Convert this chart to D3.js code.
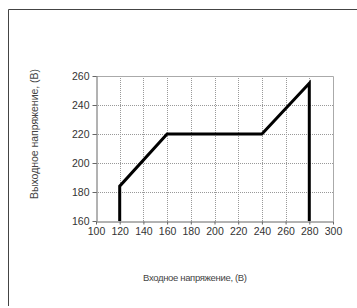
<!DOCTYPE html>
<html lang="ru">
<head>
  <meta charset="UTF-8">
  <title>Выходное напряжение</title>
  <script src="https://d3js.org/d3.v7.min.js"></script>
  <style>
    body { margin: 0; background: #fff; }
    text { font-family: "Liberation Sans", Arial, sans-serif; }
  </style>
</head>
<body>
  <script>
    // data
    const inputV = [120, 120, 160, 240, 280, 280];
    const outputV = [160, 184, 220, 220, 255, 160];
    const xTicks = [100, 120, 140, 160, 180, 200, 220, 240, 260, 280, 300];
    const yTicks = [160, 180, 200, 220, 240, 260];

    const width = 357, height = 308;
    const plotLeft = 96, plotRight = 333, plotTop = 76, plotBottom = 221;

    const svg = d3.select("body").append("svg")
      .attr("width", width)
      .attr("height", height);

    // outer frame (left and top only)
    svg.append("path")
      .attr("d", "M8.5,306V9.5H357")
      .attr("fill", "none")
      .attr("stroke", "#444")
      .attr("stroke-width", 1);

    const x = d3.scaleLinear().domain([100, 300]).range([plotLeft, plotRight]);
    const y = d3.scaleLinear().domain([160, 260]).range([plotBottom, plotTop]);

    // grid
    const g = svg.append("g");
    g.selectAll(".vgrid")
      .data(xTicks.slice(1, -1))
      .enter().append("line")
      .attr("x1", d => Math.round(x(d)) + 0.5)
      .attr("x2", d => Math.round(x(d)) + 0.5)
      .attr("y1", plotTop)
      .attr("y2", plotBottom)
      .attr("stroke", "#999")
      .attr("stroke-dasharray", "1,1");
    g.selectAll(".hgrid")
      .data(yTicks.slice(1, -1))
      .enter().append("line")
      .attr("y1", d => Math.round(y(d)) + 0.5)
      .attr("y2", d => Math.round(y(d)) + 0.5)
      .attr("x1", plotLeft)
      .attr("x2", plotRight)
      .attr("stroke", "#999")
      .attr("stroke-dasharray", "1,1");

    // plot border top and right
    svg.append("path")
      .attr("d", `M${plotLeft},${plotTop + 0.5}H${plotRight + 0.5}V${plotBottom}`)
      .attr("fill", "none")
      .attr("stroke", "#aaa");

    // axes
    const xAxis = svg.append("g")
      .attr("transform", `translate(0,${plotBottom + 0.5})`)
      .call(d3.axisBottom(x).tickValues(xTicks).tickSize(3).tickSizeOuter(0).tickPadding(3));
    const yAxis = svg.append("g")
      .attr("transform", `translate(${plotLeft + 0.5},0)`)
      .call(d3.axisLeft(y).tickValues(yTicks).tickSize(4).tickSizeOuter(0).tickPadding(3));

    [xAxis, yAxis].forEach(a => {
      a.select(".domain").attr("stroke", "#666");
      a.selectAll(".tick line").attr("stroke", "#666");
      a.selectAll(".tick text")
        .attr("fill", "#333")
        .style("font-size", "10.5px")
        .style("font-family", "'Liberation Sans', Arial, sans-serif");
    });

    // the line
    const pts = inputV.map((v, i) => [v, outputV[i]]);
    svg.append("path")
      .datum(pts)
      .attr("fill", "none")
      .attr("stroke", "#000")
      .attr("stroke-width", 3)
      .attr("stroke-linejoin", "miter")
      .attr("d", d3.line().x(d => x(d[0])).y(d => y(d[1])));

    // axis titles
    svg.append("text")
      .attr("x", 195)
      .attr("y", 281)
      .attr("text-anchor", "middle")
      .attr("fill", "#444")
      .attr("textLength", 104)
      .attr("lengthAdjust", "spacing")
      .style("font-size", "9.5px")
      .text("Входное напряжение, (В)");

    svg.append("text")
      .attr("transform", "translate(38,134) rotate(-90)")
      .attr("text-anchor", "middle")
      .attr("fill", "#444")
      .attr("textLength", 130)
      .attr("lengthAdjust", "spacing")
      .style("font-size", "10.5px")
      .text("Выходное напряжение, (В)");
  </script>
</body>
</html>
